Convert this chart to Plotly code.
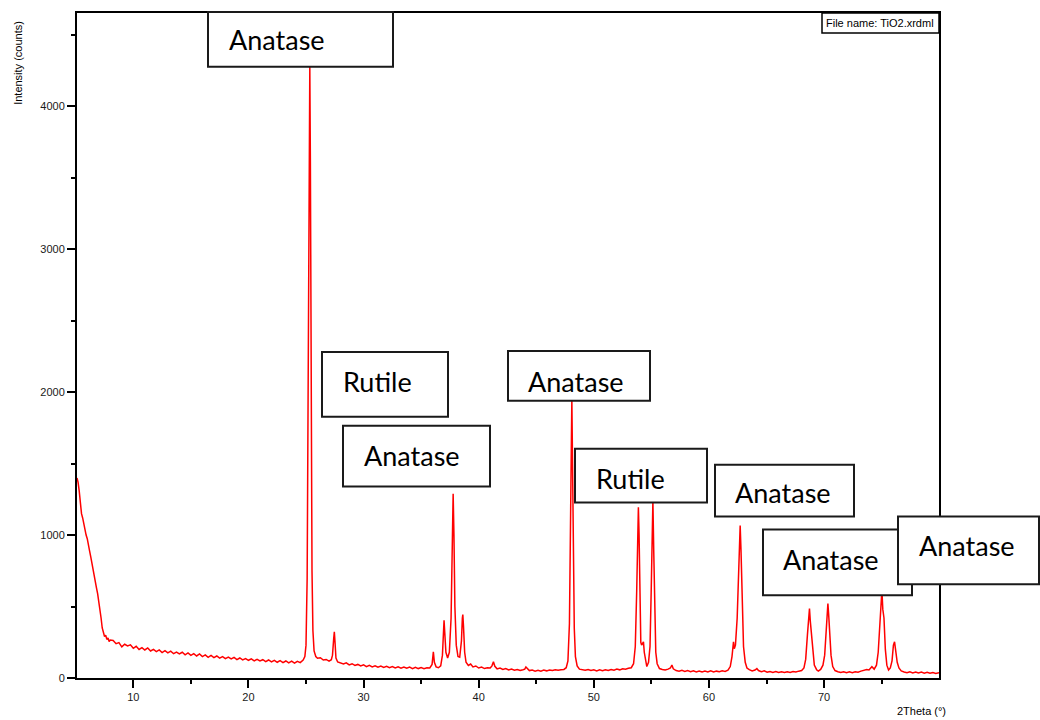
import plotly.graph_objects as go

# ---- data (2Theta in degrees, intensity in counts) ----
two_theta = [
    5.11, 5.2, 5.3, 5.4, 5.5, 5.6, 5.7, 5.8, 5.9, 6.0, 6.1, 6.2, 6.3, 6.4, 6.5, 6.6, 6.7, 6.8, 6.9, 7.0,
    7.1, 7.2, 7.3, 7.4, 7.5, 7.6, 7.7, 7.8, 7.9, 8.0,
    8.25, 8.5, 8.75, 9.0, 9.25, 9.5, 9.75, 10.0, 10.25, 10.5, 10.75, 11.0, 11.25, 11.5, 11.75, 12.0,
    12.25, 12.5, 12.75, 13.0, 13.25, 13.5, 13.75, 14.0, 14.25, 14.5, 14.75, 15.0, 15.25, 15.5, 15.75, 16.0,
    16.25, 16.5, 16.75, 17.0, 17.25, 17.5, 17.75, 18.0, 18.25, 18.5, 18.75, 19.0, 19.25, 19.5, 19.75, 20.0,
    20.25, 20.5, 20.75, 21.0, 21.25, 21.5, 21.75, 22.0, 22.25, 22.5, 22.75, 23.0, 23.25, 23.5, 23.75, 24.0,
    24.25, 24.5, 24.75, 24.9, 25.0, 25.1, 25.2, 25.28, 25.33, 25.38, 25.45, 25.52, 25.6, 25.7, 25.85,
    26.0, 26.25, 26.5, 26.75, 27.0, 27.2, 27.3, 27.4, 27.46, 27.52, 27.6, 27.75, 28.0, 28.25, 28.5, 28.75,
    29.0, 29.25, 29.5, 29.75, 30.0, 30.25, 30.5, 30.75, 31.0, 31.25, 31.5, 31.75, 32.0, 32.25, 32.5, 32.75,
    33.0, 33.25, 33.5, 33.75, 34.0, 34.25, 34.5, 34.75, 35.0, 35.25, 35.5, 35.75, 35.95, 36.06, 36.15, 36.3,
    36.5, 36.7, 36.85, 36.95, 36.99, 37.05, 37.15, 37.3, 37.45, 37.6, 37.7, 37.78, 37.85, 37.93, 38.05, 38.2,
    38.35, 38.5, 38.58, 38.62, 38.68, 38.78, 38.9, 39.1, 39.3, 39.5, 39.75, 40.0, 40.25, 40.5, 40.75, 41.0,
    41.15, 41.28, 41.4, 41.6, 41.85, 42.1, 42.35, 42.6, 42.85, 43.1, 43.35, 43.6, 43.85, 44.0, 44.1, 44.2,
    44.4, 44.65, 44.9, 45.15, 45.4, 45.65, 45.9, 46.15, 46.4, 46.65, 46.9, 47.15, 47.4, 47.6, 47.75, 47.88,
    47.97, 48.03, 48.09, 48.15, 48.22, 48.3, 48.4, 48.55, 48.75, 49.0, 49.25, 49.5, 49.75, 50.0, 50.25, 50.5,
    50.75, 51.0, 51.25, 51.5, 51.75, 52.0, 52.25, 52.5, 52.75, 53.0, 53.25, 53.45, 53.6, 53.72, 53.8, 53.87,
    53.93, 54.0, 54.08, 54.15, 54.25, 54.31, 54.38, 54.5, 54.6, 54.75, 54.88, 54.98, 55.06, 55.13, 55.2, 55.28,
    55.38, 55.5, 55.7, 55.95, 56.2, 56.45, 56.65, 56.78, 56.9, 57.15, 57.4, 57.65, 57.9, 58.15, 58.4, 58.65,
    58.9, 59.15, 59.4, 59.65, 59.9, 60.15, 60.4, 60.65, 60.9, 61.15, 61.4, 61.65, 61.85, 62.0, 62.08, 62.13,
    62.2, 62.3, 62.45, 62.6, 62.71, 62.78, 62.88, 63.0, 63.15, 63.3, 63.5, 63.75, 64.0, 64.16, 64.3, 64.55,
    64.8, 65.05, 65.3, 65.55, 65.8, 66.05, 66.3, 66.55, 66.8, 67.05, 67.3, 67.55, 67.8, 68.05, 68.25, 68.4,
    68.55, 68.66, 68.73, 68.8, 68.9, 69.0, 69.15, 69.35, 69.5, 69.7, 69.9, 70.05, 70.18, 70.28, 70.33, 70.4,
    70.5, 70.6, 70.75, 70.95, 71.2, 71.45, 71.7, 71.95, 72.2, 72.45, 72.7, 72.95, 73.2, 73.45, 73.7, 73.9,
    74.15, 74.35, 74.55, 74.7, 74.85, 74.95, 75.02, 75.1, 75.2, 75.32, 75.45, 75.6, 75.75, 75.9, 76.02, 76.12,
    76.22, 76.35, 76.5, 76.7, 76.95, 77.2, 77.45, 77.7, 77.95, 78.2, 78.45, 78.7, 78.95, 79.2, 79.45, 79.7,
    79.98,
]
intensity = [
    1400, 1370, 1310, 1210, 1150, 1120, 1070, 1040, 1000, 975, 920, 890, 850, 800, 770, 720, 680, 630, 590, 540,
    490, 420, 350, 310, 290, 300, 270, 280, 255, 265,
    262, 240, 248, 218, 236, 224, 232, 208, 222, 200, 213, 196, 210, 189, 200, 185,
    197, 178, 192, 176, 188, 170, 181, 168, 180, 162, 175, 158, 170, 154, 168, 150,
    162, 145, 158, 143, 154, 139, 150, 136, 146, 133, 144, 129, 140, 127, 136, 124,
    134, 120, 131, 119, 128, 115, 126, 113, 124, 110, 121, 108, 119, 106, 118, 104,
    117, 108, 125, 150, 230, 700, 2200, 3900, 4280, 3600, 1800, 750, 330, 190, 150,
    138, 142, 126, 130, 118, 128, 160, 270, 323, 250, 140, 112, 104, 98, 106, 92,
    100, 88, 95, 84, 92, 80, 89, 78, 86, 76, 84, 74, 82, 72, 80, 70,
    78, 69, 77, 68, 76, 66, 75, 66, 73, 65, 72, 70, 95, 183, 110, 78,
    72, 85, 160, 360, 404, 320, 180, 140, 180, 420, 900, 1290, 1000, 500, 230, 150,
    145, 260, 420, 444, 360, 180, 110, 88, 98, 78, 84, 70, 76, 66, 72, 70,
    85, 114, 82, 64, 70, 60, 66, 56, 62, 54, 60, 52, 58, 62, 77, 66,
    52, 56, 48, 54, 48, 55, 50, 56, 52, 58, 54, 58, 60, 72, 120, 380,
    1000, 1650, 1950, 1500, 800, 350, 150, 85, 62, 58, 54, 60, 52, 58, 50, 57,
    51, 58, 52, 60, 55, 62, 57, 64, 62, 68, 72, 100, 220, 600, 1050, 1195,
    1000, 500, 250, 230, 240, 253, 180, 110, 80, 110, 220, 600, 1100, 1240, 900, 420,
    180, 100, 66, 60, 56, 62, 70, 91, 64, 52, 48, 54, 46, 52, 44, 50,
    43, 49, 42, 48, 43, 50, 42, 48, 44, 50, 46, 55, 80, 150, 240, 253,
    205, 230, 420, 850, 1067, 900, 500, 220, 110, 70, 58, 50, 56, 66, 52, 44,
    50, 40, 46, 39, 45, 38, 44, 38, 44, 39, 46, 42, 48, 52, 70, 130,
    300, 470, 486, 400, 300, 180, 90, 58, 48, 60, 90, 160, 350, 510, 521, 440,
    300, 160, 80, 52, 44, 38, 44, 37, 43, 37, 44, 40, 48, 52, 60, 56,
    79, 62, 90, 180, 420, 590, 614, 480, 420, 200, 90, 56, 70, 120, 230, 253,
    170, 110, 70, 50, 42, 37, 44, 36, 42, 35, 41, 34, 40, 33, 38, 32,
    37,
]

x_tick_values = [10, 20, 30, 40, 50, 60, 70]
y_tick_values = [0, 1000, 2000, 3000, 4000]
phase_labels = ["Anatase", "Rutile", "Anatase", "Anatase", "Rutile", "Anatase", "Anatase", "Anatase"]
file_label = "File name: TiO2.xrdml"
x_title = "2Theta (°)"
y_title = "Intensity (counts)"

# ---- layout geometry (pixels) ----
W, H = 1040, 720
L, R, T, B = 77, 939, 11, 678  # plot-area edges in pixels


def px(xp):
    return (xp - L) / (R - L)


def py(yp):
    return (B - yp) / (B - T)


# label boxes: (x0, y0, x1, y1, text_cx, text_cy) in pixels
label_boxes = [
    (208, 10, 393, 65, 277, 38),
    (322, 351, 448, 416, 377, 381),
    (343, 425, 490, 486, 412, 455),
    (508, 350, 650, 400, 576, 381),
    (575, 448, 707, 502, 630, 478),
    (715, 464, 854, 516, 783, 492),
    (763, 529, 912, 595, 831, 559),
    (898, 516, 1039, 584, 967, 545),
]

fig = go.Figure()
fig.add_trace(go.Scatter(
    x=two_theta, y=intensity, mode="lines",
    line=dict(color="#ff0000", width=1.5),
    hoverinfo="skip", showlegend=False,
))

shapes = []
annotations = []

# file name box
shapes.append(dict(type="rect", xref="paper", yref="paper",
                   x0=px(822), x1=px(939), y0=py(31), y1=py(11),
                   line=dict(color="black", width=1.5), fillcolor="white", layer="above"))
annotations.append(dict(xref="paper", yref="paper", x=px(880), y=py(21),
                        text=file_label, showarrow=False, xanchor="center", yanchor="middle",
                        font=dict(family="Liberation Sans, Arial", size=11, color="black")))

for (x0, y0, x1, y1, tx, ty), txt in zip(label_boxes, phase_labels):
    shapes.append(dict(type="rect", xref="paper", yref="paper",
                       x0=px(x0), x1=px(x1), y0=py(y1), y1=py(y0),
                       line=dict(color="#1a1a1a", width=2), fillcolor="white", layer="above"))
    annotations.append(dict(xref="paper", yref="paper", x=px(tx), y=py(ty),
                            text=txt, showarrow=False, xanchor="center", yanchor="middle",
                            font=dict(family="Lato, Carlito, Open Sans", size=27, color="black")))

# axis titles
annotations.append(dict(xref="paper", yref="paper", x=px(18), y=py(61), text=y_title,
                        textangle=-90, showarrow=False, xanchor="center", yanchor="middle",
                        font=dict(family="Liberation Sans, Arial", size=11, color="black")))
annotations.append(dict(xref="paper", yref="paper", x=px(921), y=py(711), text=x_title,
                        showarrow=False, xanchor="center", yanchor="middle",
                        font=dict(family="Liberation Sans, Arial", size=11, color="black")))

px_per_deg = 11.51
x_min = 10 - (133.3 - L) / px_per_deg
x_max = 10 + (R - 133.3) / px_per_deg
counts_per_px = 1 / 0.14333
y_max = (B - T) * counts_per_px

fig.update_layout(
    width=W, height=H,
    margin=dict(l=L, r=W - R, t=T, b=H - B, pad=0),
    paper_bgcolor="white", plot_bgcolor="white",
    shapes=shapes, annotations=annotations,
    font=dict(family="Liberation Sans, Arial", size=11, color="#1a1a1a"),
    xaxis=dict(
        range=[x_min, min(x_max, 79.98)], showgrid=False, zeroline=False,
        showline=True, linecolor="black", linewidth=2, mirror=True,
        tickmode="array", tickvals=x_tick_values, ticktext=[str(v) for v in x_tick_values],
        ticks="outside", ticklen=8, tickwidth=1.5, tickcolor="black",
        minor=dict(ticks="outside", ticklen=4, tickwidth=1.5, tickcolor="black", dtick=5, tick0=0),
        tickfont=dict(size=11, color="#1a1a1a"),
    ),
    yaxis=dict(
        range=[0, y_max], showgrid=False, zeroline=False,
        showline=True, linecolor="black", linewidth=2, mirror=True,
        tickmode="array", tickvals=y_tick_values, ticktext=[str(v) for v in y_tick_values],
        ticks="outside", ticklen=8, tickwidth=1.5, tickcolor="black",
        minor=dict(ticks="outside", ticklen=4, tickwidth=1.5, tickcolor="black", dtick=500, tick0=0),
        tickfont=dict(size=11, color="#1a1a1a"),
    ),
)

fig.write_html("out.html")
